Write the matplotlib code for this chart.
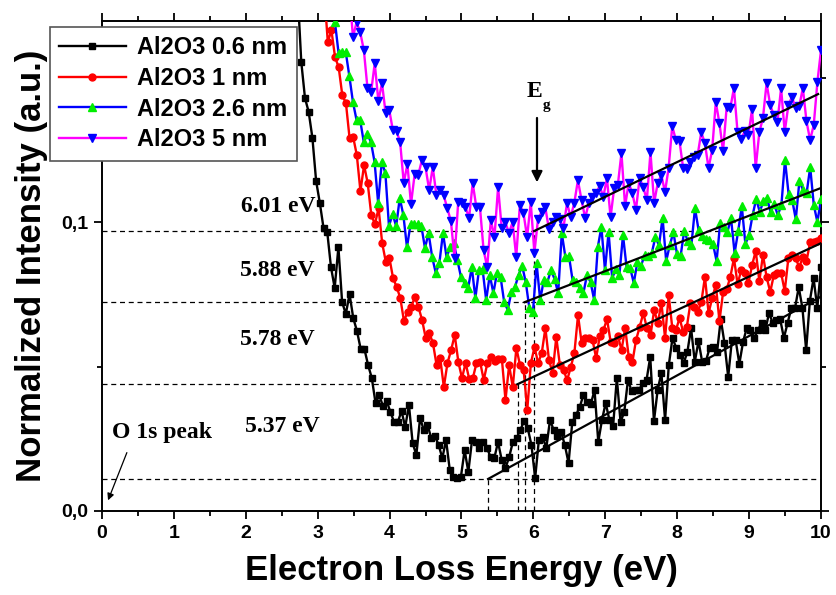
import numpy as np
import matplotlib
matplotlib.use("Agg")
import matplotlib.pyplot as plt

# Al2O3 0.6 nm (black squares)
black_y = [0.18, 0.1554, 0.1429, 0.1381, 0.1291, 0.1142, 0.1066, 0.0979, 0.0965, 0.0844, 0.0772, 0.0913, 0.0723,
           0.0682, 0.0751, 0.0668, 0.0623, 0.0561, 0.0561, 0.0505, 0.0460, 0.0374, 0.0401, 0.0363, 0.0381, 0.0343,
           0.0308, 0.0308, 0.0346, 0.0291, 0.0367, 0.0235, 0.0194, 0.0322, 0.0280, 0.0298, 0.0253,
           0.0260, 0.0228, 0.0183, 0.0246, 0.0142, 0.0118, 0.0114, 0.0118, 0.0211, 0.0135, 0.0246, 0.0239, 0.0218,
           0.0239, 0.0218, 0.0187, 0.0183, 0.0239, 0.0176, 0.0149, 0.0187, 0.0239, 0.0253, 0.0280, 0.0311, 0.0287,
           0.0228, 0.0114, 0.0246, 0.0256, 0.0218, 0.0315, 0.0280,
           0.0260, 0.0273, 0.0228, 0.0166, 0.0308, 0.0332, 0.0360, 0.0401, 0.0377, 0.0370, 0.0419, 0.0239, 0.0315,
           0.0374, 0.0315, 0.0294, 0.0460, 0.0308, 0.0343, 0.0453, 0.0415, 0.0419, 0.0419, 0.0443, 0.0453, 0.0533,
           0.0311, 0.0419, 0.0478, 0.0315, 0.0505, 0.0599, 0.0564, 0.0540, 0.0512, 0.0550, 0.0633,
           0.0516, 0.0588, 0.0516, 0.0519, 0.0564, 0.0567, 0.0550, 0.0664, 0.0581, 0.0464, 0.0592, 0.0592, 0.0509,
           0.0585, 0.0633, 0.0626, 0.0599, 0.0626, 0.0651, 0.0626, 0.0685, 0.0651, 0.0661, 0.0664, 0.0599, 0.0651,
           0.0702, 0.0702, 0.0775, 0.0702, 0.0557, 0.0727, 0.0806, 0.0702, 0.0844]
black_start = 2.72

# Al2O3 1 nm (red circles)
red_y = [0.18, 0.1623, 0.1664, 0.1571, 0.1536, 0.1439, 0.1412, 0.1291, 0.1294, 0.1232, 0.1107, 0.1197, 0.1135,
         0.1024, 0.0993, 0.1048, 0.0927, 0.0862, 0.0875, 0.0806, 0.0775, 0.0737, 0.0657, 0.0689, 0.0706, 0.0740,
         0.0706, 0.0661, 0.0599,
         0.0616, 0.0581, 0.0505, 0.0529, 0.0429, 0.0512, 0.0557, 0.0609, 0.0516, 0.0460, 0.0512, 0.0457, 0.0460,
         0.0512, 0.0516, 0.0453, 0.0512, 0.0533, 0.0519, 0.0526, 0.0526, 0.0384, 0.0505, 0.0429, 0.0564, 0.0505,
         0.0488, 0.0349, 0.0512, 0.0567, 0.0512, 0.0547, 0.0633, 0.0522, 0.0478, 0.0602, 0.0505, 0.0488, 0.0453,
         0.0498, 0.0547, 0.0678, 0.0581, 0.0599, 0.0599, 0.0592, 0.0529,
         0.0606, 0.0626, 0.0664, 0.0585, 0.0581, 0.0606, 0.0557, 0.0633, 0.0533, 0.0516, 0.0592, 0.0637, 0.0685,
         0.0633, 0.0609, 0.0696, 0.0651, 0.0720, 0.0599, 0.0747, 0.0633, 0.0626, 0.0668, 0.0619, 0.0637, 0.0720,
         0.0706, 0.0689, 0.0723, 0.0810, 0.0685, 0.0737, 0.0782, 0.0657, 0.0758, 0.0768, 0.0810, 0.0875, 0.0785,
         0.0834, 0.0824, 0.0789, 0.0851, 0.0900, 0.0796, 0.0886, 0.0810, 0.0758, 0.0817, 0.0824, 0.0824, 0.0761,
         0.0875, 0.0886, 0.0875, 0.0844, 0.0879, 0.0865, 0.0931, 0.0931, 0.0934, 0.0945]
red_start = 3.09

# Al2O3 2.6 nm (blue line, green triangles)
blue_y = [0.18, 0.1692, 0.1585, 0.1588, 0.1588, 0.1505, 0.1415, 0.1353, 0.1353, 0.1277, 0.1304, 0.1277, 0.1208,
          0.1066, 0.1208, 0.1170, 0.0986, 0.1028, 0.0986, 0.1083, 0.1024, 0.0913, 0.0993, 0.0993, 0.0993, 0.0986,
          0.0910,
          0.0962, 0.0879, 0.0824, 0.0858, 0.0962, 0.0879, 0.0913, 0.0927, 0.0869, 0.0810, 0.0789, 0.0772, 0.0844,
          0.0737, 0.0834, 0.0837, 0.0730, 0.0817, 0.0754, 0.0824, 0.0810, 0.0723, 0.0696, 0.0758, 0.0775, 0.0817,
          0.0848, 0.0792, 0.0702, 0.0689, 0.0858, 0.0730, 0.0799, 0.0792, 0.0834, 0.0803, 0.0754, 0.0962, 0.0879,
          0.0882, 0.0799, 0.0792, 0.0772, 0.0754, 0.0817, 0.0792, 0.0730, 0.0913,
          0.0983, 0.0834, 0.0965, 0.0806, 0.0837, 0.0817, 0.0955, 0.0844, 0.0841, 0.0789, 0.0862, 0.0848, 0.0886,
          0.0882, 0.0893, 0.0948, 0.0920, 0.1014, 0.0865, 0.0920, 0.0965, 0.0889, 0.0882, 0.0969, 0.0934, 0.0920,
          0.1048,
          0.0972, 0.0952, 0.0941, 0.0938, 0.0924, 0.0865, 0.0997, 0.0983, 0.0965, 0.1014, 0.0893, 0.0969, 0.1055,
          0.0924, 0.0955, 0.1024, 0.1080, 0.1035, 0.1073, 0.1083, 0.1035, 0.1062, 0.1024, 0.1059, 0.1215, 0.1097,
          0.1076, 0.1010, 0.1142, 0.1111, 0.1100, 0.1190, 0.1059, 0.1000, 0.1080]
blue_start = 3.19

# Al2O3 5 nm (magenta line, blue down triangles)
mag_y = [0.18, 0.1640, 0.1692, 0.1657, 0.1595, 0.1464, 0.1450, 0.1550, 0.1419, 0.1481, 0.1377, 0.1388, 0.1318,
         0.1315, 0.1277, 0.1135, 0.1201, 0.1062, 0.1166, 0.1163, 0.1215, 0.1190, 0.1111, 0.1190, 0.1093, 0.1111,
         0.1093, 0.1048, 0.1003, 0.0875, 0.1069, 0.1066, 0.1052, 0.1014, 0.1135, 0.1052, 0.1052, 0.0903, 0.0844,
         0.1007, 0.0948, 0.1121, 0.0979, 0.1000, 0.0962, 0.1000, 0.0879, 0.1059, 0.1031, 0.0948, 0.1069, 0.0893,
         0.1010, 0.1035, 0.1052, 0.0976, 0.1000, 0.1017, 0.1010, 0.0979, 0.1066, 0.1017, 0.1066, 0.1145, 0.1076,
         0.1014, 0.1066, 0.1087, 0.1100,
         0.1125, 0.1087, 0.1152, 0.1017, 0.1118, 0.1128, 0.1239, 0.1055, 0.1135, 0.1100, 0.1042, 0.1152, 0.1121,
         0.1076, 0.1242, 0.1066, 0.1135, 0.1163, 0.1104, 0.1187, 0.1332, 0.1284, 0.1280, 0.1187, 0.1183, 0.1208,
         0.1225, 0.1232, 0.1311, 0.1273, 0.1187, 0.1249, 0.1415, 0.1343, 0.1246, 0.1398, 0.1394, 0.1464, 0.1311,
         0.1287, 0.1315, 0.1301, 0.1391, 0.1187, 0.1311, 0.1360, 0.1481, 0.1405, 0.1370, 0.1346, 0.1464, 0.1311,
         0.1405, 0.1433, 0.1394, 0.1401, 0.1464, 0.1349, 0.1284, 0.1336, 0.1484, 0.1595]
mag_start = 3.44

# band gap onsets and linear fits
gap_labels = ["5.37 eV", "5.78 eV", "5.88 eV", "6.01 eV"]
gap_e = [5.37, 5.78, 5.88, 6.01]
gap_level = [0.0111, 0.0439, 0.0723, 0.0969]
fit_end_e = [10.0, 10.0, 10.0, 9.96]
fit_end_y = [0.0742, 0.0927, 0.1118, 0.1443]
label_pos = [(1.99, 0.0291), (1.92, 0.0592), (1.92, 0.0834), (1.93, 0.1055)]

fig = plt.figure(figsize=(8.37, 5.95), dpi=100)
ax = fig.add_axes([102 / 837, 1 - 511 / 595, 719 / 837, 490 / 595])

serif = dict(family="Liberation Serif", fontweight="bold")
sans = "Liberation Sans"

dash = (0, (4, 3))
for e, lvl in zip(gap_e, gap_level):
    ax.axhline(lvl, color="black", lw=0.9, ls=dash, zorder=1)
    ax.plot([e, e], [0, lvl], color="black", lw=0.9, ls=dash, zorder=1)

series = [
    (black_y, black_start, "Al2O3 0.6 nm", "black", "s", "black", 4),
    (red_y, red_start, "Al2O3 1 nm", "red", "o", "red", 5),
    (blue_y, blue_start, "Al2O3 2.6 nm", "blue", "^", "#00ee00", 6),
    (mag_y, mag_start, "Al2O3 5 nm", "#ff00ff", "v", "blue", 6),
]
handles = []
for ys, x0, lab, col, mk, mc, ms in series:
    xs = np.linspace(x0, 10, len(ys))
    h, = ax.plot(xs, ys, color=col, lw=1.7, marker=mk, ms=ms, mfc=mc, mec=mc, label=lab, zorder=3)
    handles.append(h)

for e, lvl, e2, y2 in zip(gap_e, gap_level, fit_end_e, fit_end_y):
    ax.plot([e, e2], [lvl, y2], color="black", lw=1.6, zorder=4)

for lab, (tx, ty) in zip(gap_labels, label_pos):
    ax.text(tx, ty, lab, fontsize=17, va="center", ha="left", **serif)

ax.text(0.14, 0.0273, "O 1s peak", fontsize=17, va="center", ha="left", **serif)
ax.annotate("", xy=(0.07, 0.0028), xytext=(0.36, 0.0211),
            arrowprops=dict(arrowstyle="-|>", color="black", lw=0.9, mutation_scale=10))

ax.text(5.91, 0.1453, "E", fontsize=17, va="center", ha="left", **serif)
ax.text(6.13, 0.1405, "g", fontsize=11, va="center", ha="left", **serif)
ax.annotate("", xy=(6.05, 0.1128), xytext=(6.05, 0.137),
            arrowprops=dict(arrowstyle="-|>", color="black", lw=1.6, mutation_scale=16))

ax.set_xlim(0, 10)
ax.set_ylim(0, 0.1696)
ax.set_xticks(np.arange(0, 11, 1))
ax.set_xticks(np.arange(0.5, 10, 1), minor=True)
ax.set_yticks([0.0, 0.1])
ax.set_yticks([0.05, 0.15], minor=True)
ax.set_yticklabels(["0,0", "0,1"])
ax.tick_params(which="both", direction="out", top=True, right=True, width=1.3, pad=4)
ax.tick_params(which="major", length=6)
ax.tick_params(which="minor", length=3.5)
for lbl in ax.get_xticklabels() + ax.get_yticklabels():
    lbl.set_fontfamily(sans)
    lbl.set_fontweight("bold")
    lbl.set_fontsize(14)
for sp in ax.spines.values():
    sp.set_linewidth(1.4)

ax.set_xlabel("Electron Loss Energy (eV)", fontsize=25, fontweight="bold", family=sans, labelpad=9)
ax.set_ylabel("Normalized Intensity (a.u.)", fontsize=25, fontweight="bold", family=sans, labelpad=9)

leg = fig.legend(handles=handles, loc="upper left", bbox_to_anchor=(50 / 837, 1 - 27 / 595),
                 prop=dict(family=sans, weight="bold", size=17), frameon=True, fancybox=False,
                 edgecolor="#555555", framealpha=1, handlelength=2.8, labelspacing=0.32,
                 borderpad=0.4, handletextpad=0.5, borderaxespad=0)
leg.get_frame().set_linewidth(1.2)

fig.savefig("out.png", dpi=100)
